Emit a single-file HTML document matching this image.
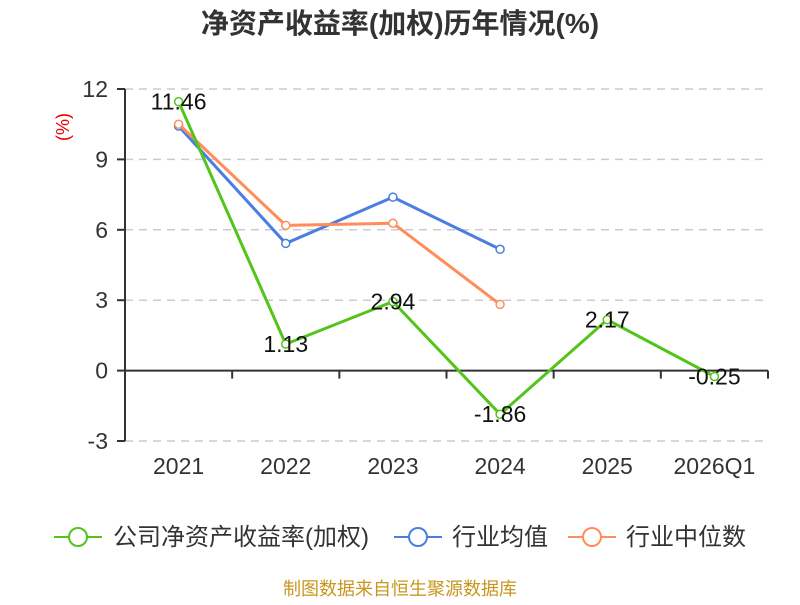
<!DOCTYPE html>
<html><head><meta charset="utf-8"><style>
body{margin:0;background:#fff;}
svg text{font-family:"Liberation Sans","Noto Sans CJK SC",sans-serif;}
</style></head><body>
<svg id="c" width="800" height="600" xmlns="http://www.w3.org/2000/svg">
<text x="400" y="33" text-anchor="middle" font-size="28" font-weight="bold" fill="#333">净资产收益率(加权)历年情况(%)</text>
<text transform="translate(69,127) rotate(-90)" text-anchor="middle" font-size="18" fill="#e00">(%)</text>
<g id="grid"></g><g id="axes"></g><g id="series"></g>
<g>
<g><line x1="54" x2="102" y1="537" y2="537" stroke="#52c41a" stroke-width="2"/><circle cx="78" cy="537" r="9" fill="#fff" stroke="#52c41a" stroke-width="2"/><text x="113" y="545" font-size="24" fill="#333">公司净资产收益率(加权)</text></g>
<g><line x1="394" x2="442" y1="537" y2="537" stroke="#4a7ee0" stroke-width="2"/><circle cx="418" cy="537" r="9" fill="#fff" stroke="#4a7ee0" stroke-width="2"/><text x="452" y="545" font-size="24" fill="#333">行业均值</text></g>
<g><line x1="568" x2="616" y1="537" y2="537" stroke="#ff8c5a" stroke-width="2"/><circle cx="592" cy="537" r="9" fill="#fff" stroke="#ff8c5a" stroke-width="2"/><text x="626" y="545" font-size="24" fill="#333">行业中位数</text></g>
</g>
<text x="400" y="595" text-anchor="middle" font-size="18" fill="#c8961e">制图数据来自恒生聚源数据库</text>
</svg>
<script>
const categories=["2021","2022","2023","2024","2025","2026Q1"];
const companyValues=[11.46,1.13,2.94,-1.86,2.17,-0.25];
const industryAvg=[10.42,5.42,7.39,5.17];
const industryMedian=[10.5,6.19,6.28,2.82];
const yTicks=[-3,0,3,6,9,12];
const NS="http://www.w3.org/2000/svg";
const L=125,R=768,T=89,B=441,ymin=-3,ymax=12;
const bw=(R-L)/categories.length;
const xs=i=>L+bw*(i+0.5);
const ys=v=>B-(v-ymin)/(ymax-ymin)*(B-T);
function mk(t,a,p){const e=document.createElementNS(NS,t);for(const k in a)e.setAttribute(k,a[k]);p.appendChild(e);return e;}
const grid=document.getElementById('grid'),axes=document.getElementById('axes'),ser=document.getElementById('series');
yTicks.forEach(v=>{
 if(v!==0){const g=mk('line',{x1:L,x2:R,y1:ys(v),y2:ys(v),stroke:'#ccc','stroke-width':1.5,'stroke-dasharray':'8,6'},grid);
 
 }
 const tk=mk('line',{x1:L-8,x2:L,y1:ys(v),y2:ys(v),stroke:'#333','stroke-width':2},axes);
 
 
 const t=mk('text',{x:L-17,y:ys(v)+8,'text-anchor':'end','font-size':23,fill:'#333'},axes);t.textContent=v;
 
 
});
const ya=mk('line',{x1:L,x2:L,y1:T,y2:B,stroke:'#333','stroke-width':2},axes);


const xa=mk('line',{x1:L,x2:R,y1:ys(0),y2:ys(0),stroke:'#333','stroke-width':2},axes);


for(let i=0;i<=categories.length;i++){const t=mk('line',{x1:L+bw*i,x2:L+bw*i,y1:ys(0),y2:ys(0)+8,stroke:'#333','stroke-width':2},axes);
 
 }
categories.forEach((c,i)=>{const t=mk('text',{x:xs(i),y:474,'text-anchor':'middle','font-size':23,fill:'#333'},axes);t.textContent=c;
 
 });
function series(vals,color,name,labels){
 const g=mk('g',{},ser);
 
 
 const p=mk('polyline',{points:vals.map((v,i)=>xs(i)+','+ys(v)).join(' '),fill:'none',stroke:color,'stroke-width':3},g);
 
 
 vals.forEach((v,i)=>{const c=mk('circle',{cx:xs(i),cy:ys(v),r:4,fill:'#fff',stroke:color,'stroke-width':1.5},g);
  
  
  if(labels){const t=mk('text',{x:xs(i),y:ys(v)+8,'text-anchor':'middle','font-size':23,fill:'#111'},g);t.textContent=v.toFixed(2);
   
   }
 });
}
series(industryAvg,'#4a7ee0','industry-average-series',false);
series(industryMedian,'#ff8c5a','industry-median-series',false);
series(companyValues,'#52c41a','company-roe-series',true);
</script>
</body></html>
